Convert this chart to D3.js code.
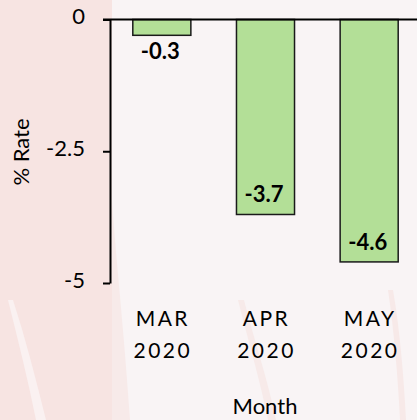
<!DOCTYPE html>
<html>
<head>
<meta charset="utf-8">
<script src="https://cdn.jsdelivr.net/npm/d3@7"></script>
<style>
  html, body { margin: 0; padding: 0; background: #f9f4f5; }
  svg { display: block; }
</style>
</head>
<body>
<div id="chart"></div>
<script>
// data
const months = ["MAR 2020", "APR 2020", "MAY 2020"];
const rates = [-0.3, -3.7, -4.6];
const yTicks = [0, -2.5, -5];

const width = 417, height = 420;
const font = "Lato, 'Open Sans', sans-serif";
const svg = d3.select("#chart").append("svg")
    .attr("width", width)
    .attr("height", height);

// fondo con pinceladas rosadas
svg.append("rect").attr("width", width).attr("height", height).attr("fill", "#f9f4f5");
const bg = svg.append("g").attr("fill", "#f7e4e2");
bg.append("path").attr("d", "M0,0 L97,0 C100,60 108,140 112,200 L112,420 L0,420 Z");
bg.append("path").attr("d", "M97,0 L112,0 L112,420 L100,420 Z");
bg.append("path").attr("fill", "#faf1f1").attr("d", "M8,300 C18,340 28,380 36,420 L46,420 C36,380 26,340 13,300 Z");
bg.append("path").attr("fill", "#f7e9e8").attr("d", "M388,290 C394,330 398,380 400,420 L406,420 C404,380 400,330 393,290 Z");
bg.append("path").attr("fill", "#f7eae9").attr("d", "M238,300 C248,340 260,380 268,420 L276,420 C268,380 254,340 244,300 Z");
bg.append("path").attr("fill", "#f7eae9").attr("d", "M112,200 C116,260 124,330 130,420 L112,420 Z");

const x = d3.scaleBand()
    .domain(months)
    .range([110, 421])
    .paddingInner(0.44)
    .paddingOuter(0.22);

const y = d3.scaleLinear()
    .domain([0, -5])
    .range([19.5, 283]);

// barras
svg.append("g").selectAll("rect")
    .data(rates)
    .join("rect")
    .attr("x", (d, i) => x(months[i]))
    .attr("y", y(0))
    .attr("width", x.bandwidth())
    .attr("height", d => y(d) - y(0))
    .attr("fill", "#b3df97")
    .attr("stroke", "#1a1a1a")
    .attr("stroke-width", 1.5);

// etiquetas de valor
svg.append("g").selectAll("text")
    .data(rates)
    .join("text")
    .attr("x", (d, i) => x(months[i]) + x.bandwidth() / 2 - 1.5)
    .attr("y", d => d > -1 ? y(d) + 24 : y(d) - 12)
    .attr("text-anchor", "middle")
    .attr("font-family", font)
    .attr("font-weight", "bold")
    .attr("font-size", 22)
    .attr("fill", "#000")
    .text(d => d.toFixed(1));

// eje Y
const yAxis = svg.append("g")
    .attr("transform", "translate(110,0)")
    .call(d3.axisLeft(y).tickValues(yTicks).tickSize(7).tickSizeOuter(0).tickFormat(d => String(d)));
yAxis.select(".domain").attr("stroke", "#000").attr("stroke-width", 2);
yAxis.selectAll(".tick line").attr("stroke", "#000").attr("stroke-width", 2);
yAxis.selectAll(".tick text")
    .attr("font-family", font)
    .attr("font-size", 22)
    .attr("fill", "#000")
    .attr("x", -25)
    .attr("dy", "0.2em");

// linea del cero
svg.append("line")
    .attr("x1", 103).attr("x2", width)
    .attr("y1", y(0)).attr("y2", y(0))
    .attr("stroke", "#000").attr("stroke-width", 2);

// etiquetas de meses
const mLabels = svg.append("g").selectAll("text")
    .data(months)
    .join("text")
    .attr("x", d => x(d) + x.bandwidth() / 2 + 1)
    .attr("y", 326)
    .attr("text-anchor", "middle")
    .attr("font-family", font)
    .attr("font-size", 21)
    .attr("letter-spacing", 2.5)
    .attr("fill", "#000");
mLabels.selectAll("tspan")
    .data(d => d.split(" "))
    .join("tspan")
    .attr("x", function () { return this.parentNode.getAttribute("x"); })
    .attr("dy", (d, i) => i === 0 ? 0 : 32)
    .text(d => d);

// titulos de ejes
svg.append("text")
    .attr("x", 265).attr("y", 414)
    .attr("text-anchor", "middle")
    .attr("font-family", font)
    .attr("font-size", 22)
    .attr("fill", "#000")
    .text("Month");

svg.append("text")
    .attr("transform", "translate(29,152) rotate(-90)")
    .attr("text-anchor", "middle")
    .attr("font-family", font)
    .attr("font-size", 22)
    .attr("fill", "#000")
    .text("% Rate");
</script>
</body>
</html>
